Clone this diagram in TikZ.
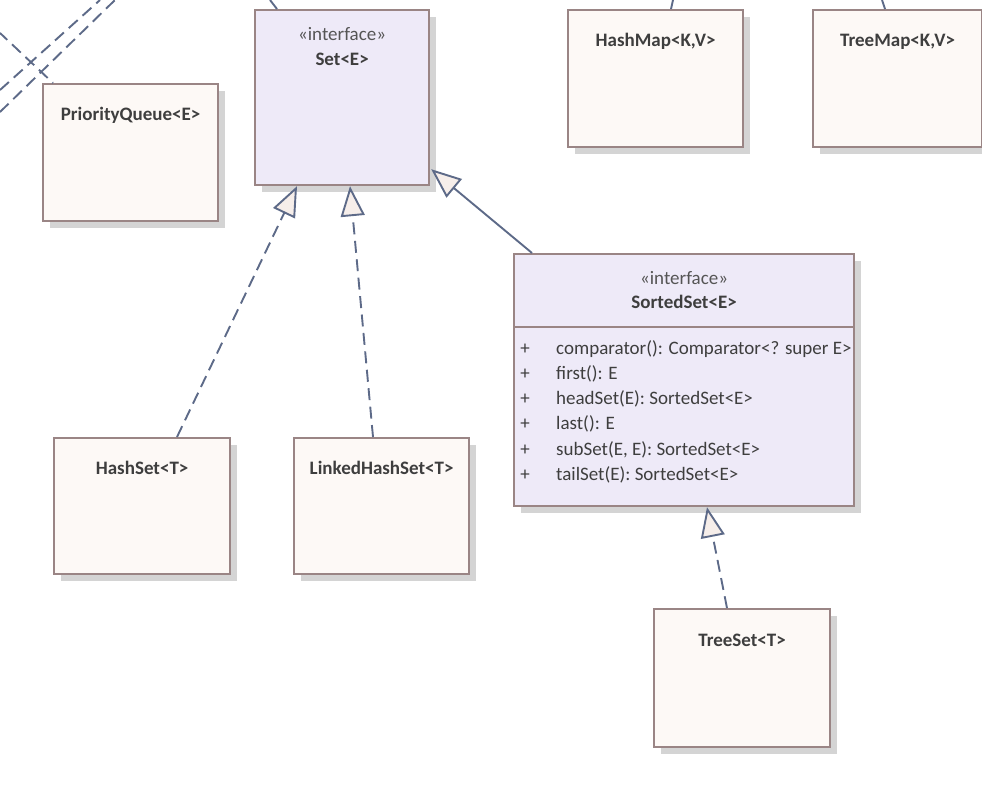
\documentclass[tikz,border=0pt]{standalone}
\usepackage{fontspec}
\setmainfont{Carlito}
\usetikzlibrary{arrows.meta,shadows,calc}
\definecolor{classfill}{HTML}{FDF9F6}
\definecolor{ifacefill}{HTML}{EEEAF8}
\definecolor{boxborder}{HTML}{9A8585}
\definecolor{shadowgray}{HTML}{D4D4D4}
\definecolor{linkcol}{HTML}{5D6A88}
\definecolor{arrowfill}{HTML}{F6EEEA}
\definecolor{textcol}{HTML}{3E3E3E}
\definecolor{stereocol}{HTML}{555555}
\begin{document}
\begin{tikzpicture}[x=1pt,y=-1pt,
  umlbox/.style={draw=boxborder, line width=2.2pt, fill=classfill, anchor=north west, inner sep=0pt,
    general shadow={fill=shadowgray, shadow xshift=7pt, shadow yshift=-7pt}},
  ifacebox/.style={umlbox, fill=ifacefill},
  titletext/.style={anchor=base, inner sep=0pt, text=textcol, font=\fontsize{19}{23}\selectfont\bfseries},
  stereotext/.style={anchor=base, inner sep=0pt, text=stereocol, font=\fontsize{19}{23}\selectfont},
  membertext/.style={anchor=base west, inner sep=0pt, text=textcol, font=\fontsize{19}{23}\selectfont},
  plustext/.style={anchor=base, inner sep=0pt, text=textcol, font=\fontsize{19}{23}\selectfont},
  link/.style={draw=linkcol, line width=1.9pt},
  realize/.style={link, dash pattern=on 12pt off 6.5pt,
    -{Triangle[length=30pt,width=24pt,fill=arrowfill,line width=1.9pt]}},
  generalize/.style={link,
    -{Triangle[length=30pt,width=24pt,fill=arrowfill,line width=1.9pt]}},
  other/.style={link, dash pattern=on 12pt off 6.5pt},
]
\useasboundingbox (0,0) rectangle (982,786);

% boxes
\node[umlbox, minimum width=175pt, minimum height=137pt] (pq) at (42,83) {};
\node[ifacebox, minimum width=174pt, minimum height=175pt] (set) at (254,9) {};
\node[umlbox, minimum width=175pt, minimum height=137pt] (hm) at (567,9) {};
\node[umlbox, minimum width=169pt, minimum height=137pt] (tm) at (812,9) {};
\node[ifacebox, minimum width=340pt, minimum height=252pt] (ss) at (513,253) {};
\node[umlbox, minimum width=176pt, minimum height=136pt] (hs) at (53,437) {};
\node[umlbox, minimum width=175pt, minimum height=136pt] (lhs) at (293,437) {};
\node[umlbox, minimum width=176pt, minimum height=138pt] (ts) at (653,608) {};

% separator in SortedSet
\coordinate (sepl) at (ss.west |- 0,327);
\coordinate (sepr) at (ss.east |- 0,327);
\draw[draw=boxborder, line width=1.6pt] (sepl) -- (sepr);

% titles
\node[titletext] (pqt) at ([yshift=-38pt]pq.north) {PriorityQueue<E>};
\node[stereotext] (sets) at ([yshift=-32pt]set.north) {«interface»};
\node[titletext] (sett) at ([yshift=-57pt]set.north) {Set<E>};
\node[titletext] (hmt) at ([yshift=-38pt]hm.north) {HashMap<K,V>};
\node[titletext] (tmt) at ([yshift=-38pt]tm.north) {TreeMap<K,V>};
\node[stereotext] (sss) at ([yshift=-31pt]ss.north) {«interface»};
\node[titletext] (sst) at ([yshift=-55pt]ss.north) {SortedSet<E>};
\node[titletext] (hst) at ([yshift=-37pt]hs.north) {HashSet<T>};
\node[titletext] (lhst) at ([yshift=-37pt]lhs.north) {LinkedHashSet<T>};
\node[titletext] (tst) at ([yshift=-38pt]ts.north) {TreeSet<T>};

% members
\foreach \i/\txt in {0/{comparator(): Comparator<? super E>},1/{first(): E},2/{headSet(E): SortedSet<E>},3/{last(): E},4/{subSet(E, E): SortedSet<E>},5/{tailSet(E): SortedSet<E>}}{
  \node[plustext] (p\i) at (525,{354+25.3*\i}) {+};
  \node[membertext] (m\i) at (556,{354+25.3*\i}) {\txt};
}

% connectors
\draw[realize] ([xshift=124pt]hs.north west) -- ([xshift=43pt]set.south west);
\draw[realize] ([xshift=80pt]lhs.north west) -- ([xshift=96pt]set.south west);
\draw[generalize] ([xshift=19pt]ss.north west) -- ([xshift=1pt,yshift=17pt]set.south east);
\draw[realize] ([xshift=74pt]ts.north west) -- ([xshift=194pt]ss.south west);

% lines leaving the visible area
\coordinate (setup) at (270,0);
\coordinate (hmup) at (673,0);
\coordinate (tmup) at (882,0);
\draw[link] ([xshift=23pt]set.north west) -- (setup);
\draw[link] ([xshift=104pt]hm.north west) -- (hmup);
\draw[link] ([xshift=73pt]tm.north west) -- (tmup);

\coordinate (da1) at (0,90);
\coordinate (db1) at (100,0);
\coordinate (da2) at (0,112);
\coordinate (db2) at (115,0);
\coordinate (dc) at (0,33);
\draw[other] (da1) -- (db1);
\draw[other] (da2) -- (db2);
\draw[other, dash phase=2pt] (dc) -- ([xshift=11pt]pq.north west);
\end{tikzpicture}
\end{document}
